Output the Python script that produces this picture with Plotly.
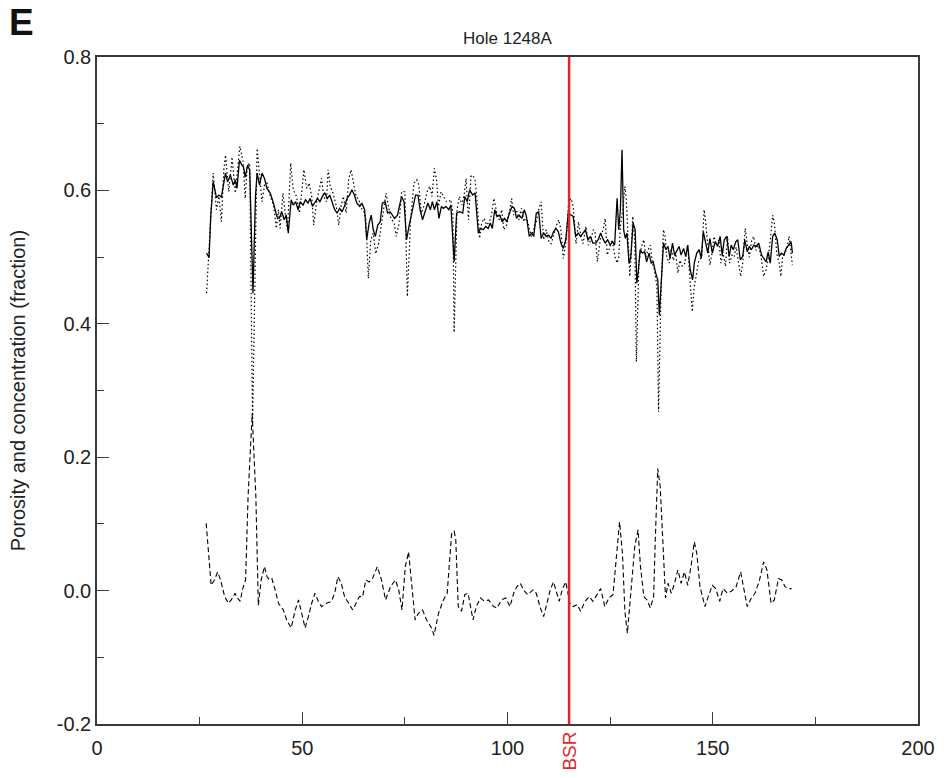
import plotly.graph_objects as go

# ---------------- data ----------------
solid = [
    (26.7, 0.506), (27.3, 0.499), (27.7, 0.560), (28.3, 0.613), (29.1, 0.589), (29.7, 0.593),
    (30.3, 0.590), (30.9, 0.611), (31.3, 0.626), (31.8, 0.613), (32.5, 0.623), (33.2, 0.608),
    (33.7, 0.616), (34.1, 0.603), (34.7, 0.645), (35.3, 0.638), (35.7, 0.635), (36.1, 0.620),
    (36.7, 0.638), (37.2, 0.630), (38.0, 0.446), (38.6, 0.590), (39.0, 0.626), (39.6, 0.608),
    (40.2, 0.626), (40.8, 0.618), (41.4, 0.603), (42.2, 0.596), (43.0, 0.581), (43.8, 0.561),
    (44.4, 0.558), (45.0, 0.568), (45.6, 0.556), (46.1, 0.563), (46.6, 0.536), (47.3, 0.586),
    (47.8, 0.578), (48.4, 0.583), (49.0, 0.571), (49.5, 0.583), (50.2, 0.578), (50.8, 0.586),
    (51.4, 0.581), (51.9, 0.588), (52.5, 0.576), (53.2, 0.583), (53.7, 0.588), (54.3, 0.583),
    (54.9, 0.591), (55.5, 0.596), (56.1, 0.588), (56.7, 0.593), (57.3, 0.583), (57.9, 0.571),
    (58.5, 0.566), (59.1, 0.573), (59.7, 0.568), (60.4, 0.578), (60.9, 0.588), (61.5, 0.593),
    (62.1, 0.601), (62.7, 0.593), (63.3, 0.581), (64.0, 0.576), (64.5, 0.581), (65.2, 0.571),
    (65.7, 0.526), (66.3, 0.551), (66.8, 0.563), (67.3, 0.541), (67.8, 0.531), (68.4, 0.548),
    (69.0, 0.553), (69.5, 0.581), (70.2, 0.583), (70.8, 0.566), (71.4, 0.568), (72.0, 0.563),
    (72.5, 0.558), (73.2, 0.563), (74.2, 0.591), (74.8, 0.583), (75.4, 0.526), (76.0, 0.546),
    (76.8, 0.571), (77.6, 0.593), (78.2, 0.593), (78.7, 0.571), (79.3, 0.556), (80.1, 0.571),
    (80.6, 0.581), (81.2, 0.571), (81.7, 0.583), (82.2, 0.571), (82.8, 0.583), (83.3, 0.558),
    (83.9, 0.576), (84.4, 0.573), (85.0, 0.576), (85.7, 0.571), (86.2, 0.578), (87.0, 0.493),
    (87.6, 0.566), (88.4, 0.568), (89.1, 0.566), (89.6, 0.591), (90.2, 0.583), (90.8, 0.601),
    (91.5, 0.593), (92.1, 0.596), (92.9, 0.536), (93.4, 0.543), (94.1, 0.541), (94.7, 0.546),
    (95.3, 0.543), (95.8, 0.551), (96.3, 0.543), (96.9, 0.571), (97.4, 0.561), (98.1, 0.563),
    (98.7, 0.553), (99.3, 0.558), (99.8, 0.553), (100.5, 0.566), (101.1, 0.576), (101.7, 0.573),
    (102.2, 0.558), (102.8, 0.563), (103.5, 0.558), (104.1, 0.571), (104.6, 0.561), (105.3, 0.531),
    (105.9, 0.536), (106.4, 0.531), (107.0, 0.566), (107.6, 0.568), (108.2, 0.528), (108.8, 0.536),
    (109.4, 0.531), (110.0, 0.533), (110.6, 0.528), (111.2, 0.538), (111.8, 0.543), (112.4, 0.538),
    (113.0, 0.521), (113.6, 0.513), (114.2, 0.526), (114.8, 0.566), (115.5, 0.563), (116.0, 0.561),
    (116.6, 0.531), (117.2, 0.536), (117.8, 0.531), (118.4, 0.536), (119.0, 0.541), (119.6, 0.526),
    (120.2, 0.531), (120.8, 0.521), (121.5, 0.521), (122.1, 0.526), (122.7, 0.536), (123.2, 0.528),
    (123.8, 0.521), (124.4, 0.526), (125.0, 0.518), (125.6, 0.523), (126.1, 0.518), (126.7, 0.588),
    (127.1, 0.541), (127.5, 0.571), (127.9, 0.661), (128.3, 0.541), (128.7, 0.528), (129.1, 0.536),
    (129.6, 0.491), (130.0, 0.498), (130.6, 0.551), (131.1, 0.541), (131.5, 0.461), (131.9, 0.481),
    (132.3, 0.511), (132.9, 0.506), (133.4, 0.508), (133.9, 0.493), (134.5, 0.506), (135.0, 0.491),
    (135.5, 0.493), (136.1, 0.476), (136.6, 0.466), (137.0, 0.413), (137.4, 0.461), (138.0, 0.521),
    (138.6, 0.511), (139.1, 0.516), (139.6, 0.498), (140.2, 0.521), (140.7, 0.503), (141.3, 0.511),
    (141.8, 0.516), (142.3, 0.503), (142.9, 0.513), (143.4, 0.501), (143.9, 0.518), (144.5, 0.481),
    (145.1, 0.466), (145.5, 0.491), (146.1, 0.506), (146.7, 0.511), (147.2, 0.498), (147.7, 0.538),
    (148.3, 0.521), (148.8, 0.506), (149.3, 0.528), (149.9, 0.506), (150.6, 0.523), (151.2, 0.516),
    (151.8, 0.531), (152.3, 0.503), (152.8, 0.526), (153.4, 0.531), (154.0, 0.501), (154.5, 0.518),
    (155.0, 0.511), (155.6, 0.523), (156.1, 0.526), (156.7, 0.496), (157.3, 0.501), (157.8, 0.526),
    (158.4, 0.508), (158.9, 0.516), (159.4, 0.511), (160.0, 0.518), (160.6, 0.516), (161.2, 0.521),
    (161.9, 0.503), (162.4, 0.498), (163.0, 0.493), (163.5, 0.508), (164.0, 0.491), (164.6, 0.531),
    (165.1, 0.536), (165.7, 0.526), (166.2, 0.501), (166.7, 0.506), (167.3, 0.503), (167.9, 0.513),
    (168.5, 0.518), (169.1, 0.523), (169.4, 0.506),
]

dotted = [
    (26.7, 0.446), (28.3, 0.626), (29.1, 0.571), (29.7, 0.591), (30.3, 0.553), (30.9, 0.631),
    (31.3, 0.653), (32.1, 0.598), (32.9, 0.650), (33.7, 0.596), (34.8, 0.666), (35.6, 0.643),
    (36.1, 0.588), (36.6, 0.636), (37.2, 0.641), (37.9, 0.250), (39.0, 0.663), (39.6, 0.626),
    (40.2, 0.583), (40.8, 0.608), (41.4, 0.611), (42.2, 0.591), (43.0, 0.578), (43.7, 0.543),
    (44.2, 0.571), (44.6, 0.543), (45.3, 0.596), (45.8, 0.568), (46.4, 0.541), (47.2, 0.641),
    (47.8, 0.601), (48.6, 0.591), (49.3, 0.566), (49.8, 0.593), (50.4, 0.631), (51.1, 0.603),
    (51.7, 0.611), (52.3, 0.591), (52.8, 0.548), (53.5, 0.583), (54.1, 0.603), (54.7, 0.618),
    (55.2, 0.591), (55.9, 0.583), (56.3, 0.631), (56.8, 0.606), (57.5, 0.596), (58.3, 0.576),
    (58.9, 0.548), (59.5, 0.578), (60.0, 0.591), (60.7, 0.566), (61.3, 0.616), (61.9, 0.631),
    (62.5, 0.611), (63.1, 0.591), (63.8, 0.586), (64.3, 0.573), (64.9, 0.571), (65.5, 0.556),
    (66.1, 0.468), (66.7, 0.526), (67.3, 0.536), (67.9, 0.505), (68.6, 0.520), (69.2, 0.546),
    (69.7, 0.561), (70.4, 0.596), (71.0, 0.576), (71.6, 0.558), (72.4, 0.551), (72.9, 0.531),
    (73.6, 0.551), (74.2, 0.598), (75.0, 0.598), (75.6, 0.441), (76.4, 0.556), (77.2, 0.611),
    (77.9, 0.616), (78.4, 0.608), (79.0, 0.566), (79.6, 0.576), (80.4, 0.598), (81.1, 0.606),
    (81.6, 0.591), (82.2, 0.633), (82.7, 0.616), (83.2, 0.576), (83.8, 0.598), (84.5, 0.591),
    (85.1, 0.583), (85.7, 0.583), (86.2, 0.586), (86.7, 0.566), (87.0, 0.387), (87.7, 0.571),
    (88.3, 0.591), (88.9, 0.578), (89.5, 0.596), (89.9, 0.618), (90.5, 0.556), (91.1, 0.621),
    (91.5, 0.623), (92.1, 0.616), (92.5, 0.591), (93.2, 0.528), (93.7, 0.551), (94.3, 0.558),
    (94.9, 0.548), (95.6, 0.553), (96.1, 0.563), (96.7, 0.588), (97.4, 0.566), (98.0, 0.556),
    (98.6, 0.571), (99.1, 0.541), (99.8, 0.548), (100.4, 0.566), (101.0, 0.588), (101.5, 0.563),
    (102.2, 0.571), (102.8, 0.556), (103.4, 0.573), (104.0, 0.553), (104.6, 0.561), (105.2, 0.546),
    (105.8, 0.531), (106.4, 0.541), (107.0, 0.553), (107.6, 0.571), (108.2, 0.583), (108.8, 0.526),
    (109.4, 0.541), (110.1, 0.523), (110.6, 0.520), (111.2, 0.531), (111.8, 0.546), (112.5, 0.556),
    (113.0, 0.541), (113.6, 0.498), (114.3, 0.526), (114.9, 0.583), (115.5, 0.588), (116.0, 0.576),
    (116.7, 0.520), (117.3, 0.553), (117.9, 0.531), (118.4, 0.520), (119.1, 0.546), (119.7, 0.518),
    (120.3, 0.526), (120.9, 0.541), (121.3, 0.538), (121.9, 0.493), (122.7, 0.531), (123.3, 0.541),
    (123.8, 0.558), (124.3, 0.503), (124.9, 0.515), (125.5, 0.526), (126.2, 0.500), (126.7, 0.491),
    (127.1, 0.500), (127.5, 0.546), (128.1, 0.571), (128.6, 0.606), (128.9, 0.591), (129.4, 0.520),
    (129.8, 0.471), (130.2, 0.510), (130.5, 0.561), (131.0, 0.526), (131.4, 0.343), (132.0, 0.491),
    (132.6, 0.515), (133.2, 0.526), (133.7, 0.500), (134.2, 0.510), (134.8, 0.518), (135.3, 0.491),
    (135.8, 0.481), (136.4, 0.456), (136.8, 0.268), (137.4, 0.451), (138.0, 0.541), (138.4, 0.531),
    (138.8, 0.500), (139.4, 0.491), (139.9, 0.513), (140.4, 0.495), (141.0, 0.505), (141.5, 0.476),
    (142.0, 0.495), (142.6, 0.486), (143.2, 0.491), (143.9, 0.518), (144.4, 0.468), (145.0, 0.418),
    (145.5, 0.456), (146.1, 0.481), (146.6, 0.495), (147.3, 0.500), (147.9, 0.571), (148.2, 0.556),
    (148.7, 0.526), (149.3, 0.488), (149.8, 0.505), (150.3, 0.531), (150.9, 0.518), (151.5, 0.526),
    (152.0, 0.491), (152.5, 0.508), (153.1, 0.486), (153.6, 0.531), (154.1, 0.491), (154.7, 0.503),
    (155.2, 0.500), (155.7, 0.515), (156.3, 0.491), (156.8, 0.471), (157.3, 0.491), (157.9, 0.543),
    (158.4, 0.520), (158.9, 0.500), (159.5, 0.526), (160.0, 0.531), (160.5, 0.510), (161.1, 0.518),
    (161.8, 0.500), (162.4, 0.471), (163.0, 0.481), (163.5, 0.498), (164.2, 0.536), (164.6, 0.563),
    (165.0, 0.551), (165.6, 0.505), (166.2, 0.491), (166.6, 0.471), (167.0, 0.500), (167.6, 0.505),
    (168.2, 0.518), (168.6, 0.531), (169.0, 0.510), (169.4, 0.488),
]

dashed = [
    (26.6, 0.101), (27.4, 0.031), (27.8, 0.008), (28.6, 0.016), (29.4, 0.028), (30.1, 0.016),
    (31.1, -0.009), (32.0, -0.019), (32.7, -0.014), (33.6, -0.004), (34.2, -0.011), (34.9, -0.016),
    (35.4, 0.001), (36.2, 0.016), (36.8, 0.141), (37.8, 0.265), (38.7, 0.141), (39.3, -0.022),
    (40.0, 0.016), (40.8, 0.036), (41.4, 0.021), (42.0, 0.016), (42.6, 0.018), (43.4, 0.001),
    (44.2, -0.019), (45.4, -0.029), (46.2, -0.044), (47.3, -0.056), (48.3, -0.029), (49.1, -0.014),
    (49.9, -0.034), (50.7, -0.056), (51.5, -0.039), (52.3, -0.019), (53.1, -0.004), (53.9, -0.016),
    (54.7, -0.024), (55.9, -0.019), (57.1, -0.016), (57.9, -0.004), (58.7, 0.021), (59.5, 0.011),
    (60.3, -0.009), (61.3, -0.019), (62.3, -0.029), (63.1, -0.019), (63.9, -0.009), (64.7, -0.009),
    (65.5, 0.016), (66.3, 0.013), (67.1, 0.018), (68.3, 0.036), (69.3, 0.016), (70.3, -0.014),
    (71.5, 0.006), (72.7, 0.016), (73.5, 0.001), (74.3, -0.029), (75.1, 0.036), (75.9, 0.058),
    (76.7, 0.006), (77.5, -0.044), (78.3, -0.034), (79.3, -0.029), (80.3, -0.044), (81.5, -0.056),
    (82.1, -0.067), (83.2, -0.034), (84.4, -0.014), (85.3, -0.004), (86.4, 0.086), (87.0, 0.089),
    (87.4, 0.076), (88.0, -0.024), (88.8, -0.031), (89.6, -0.006), (90.4, -0.004), (91.6, -0.044),
    (92.4, -0.024), (93.4, -0.011), (94.4, -0.016), (95.4, -0.014), (96.6, -0.024), (97.5, -0.026),
    (98.5, -0.014), (99.6, -0.011), (100.6, -0.024), (101.5, -0.004), (102.3, 0.006), (103.1, 0.011),
    (103.9, 0.001), (104.9, -0.006), (106.2, 0.001), (107.0, -0.004), (107.9, -0.024), (108.8, -0.039),
    (109.6, -0.019), (110.4, 0.001), (111.2, 0.013), (112.0, -0.004), (112.6, -0.016), (113.4, 0.003),
    (114.2, 0.013), (115.2, -0.019), (116.0, -0.024), (117.0, -0.021), (117.8, -0.031), (118.9, -0.016),
    (119.9, -0.009), (120.8, -0.016), (121.9, -0.004), (122.7, 0.003), (123.7, -0.024), (124.7, -0.011),
    (125.7, -0.006), (126.3, 0.036), (127.3, 0.103), (128.0, 0.056), (128.6, -0.031), (129.2, -0.064),
    (130.0, -0.004), (131.0, 0.066), (131.8, 0.091), (132.4, 0.036), (133.2, -0.009), (134.0, -0.014),
    (134.8, -0.026), (135.6, -0.009), (136.0, 0.076), (136.6, 0.183), (137.2, 0.156), (137.8, 0.076),
    (138.5, -0.011), (139.1, 0.011), (139.9, -0.004), (140.7, 0.011), (141.5, 0.031), (142.3, 0.011),
    (143.1, 0.028), (143.9, 0.008), (144.7, 0.036), (145.5, 0.073), (146.1, 0.056), (146.9, 0.006),
    (148.1, -0.024), (148.9, -0.009), (149.9, 0.008), (150.7, 0.003), (151.7, -0.016), (152.5, 0.003),
    (153.6, -0.004), (154.5, -0.001), (155.7, 0.006), (156.8, 0.028), (157.6, 0.001), (158.4, -0.024),
    (159.4, -0.011), (160.3, -0.004), (161.4, 0.016), (162.4, 0.043), (163.2, 0.031), (164.2, -0.019),
    (165.0, -0.014), (166.0, 0.018), (166.8, 0.016), (167.6, 0.006), (168.4, 0.003), (169.2, 0.003),
]

bsr_depth = 115
x_tickvals = [0, 50, 100, 150, 200]
y_tickvals = [-0.2, 0.0, 0.2, 0.4, 0.6, 0.8]
y_ticktext = ["-0.2", "0.0", "0.2", "0.4", "0.6", "0.8"]
title_text = "Hole 1248A"
panel_label = "E"
y_title = "Porosity and concentration (fraction)"

# ---------------- figure ----------------
FONT = "Liberation Sans, Arial, Helvetica, sans-serif"
AX = "#3a3a3a"
RED = "#e3242b"

def unzip(pairs):
    return [p[0] for p in pairs], [p[1] for p in pairs]

fig = go.Figure()
for pairs, dash, width in [(dotted, "1.5px,2.5px", 1.2), (solid, "solid", 1.3), (dashed, "5px,3px", 1.1)]:
    xs, ys = unzip(pairs)
    fig.add_trace(go.Scatter(x=xs, y=ys, mode="lines",
                             line=dict(color="black", width=width, dash=dash),
                             hoverinfo="skip"))

fig.add_shape(type="line", xref="x", yref="paper", x0=bsr_depth, x1=bsr_depth, y0=0, y1=1,
              line=dict(color=RED, width=2.5))

fig.add_annotation(text="BSR", xref="x", yref="paper", x=bsr_depth, y=0, yanchor="top",
                   xanchor="center", textangle=-90, yshift=-6, showarrow=False,
                   font=dict(family=FONT, size=19, color=RED))
fig.add_annotation(text=title_text, xref="paper", yref="paper", x=0.5, y=1, yanchor="bottom",
                   yshift=7, showarrow=False, font=dict(family=FONT, size=17, color="#222"))
fig.add_annotation(text="<b>" + panel_label + "</b>", xref="paper", yref="paper",
                   x=-91 / 828, y=1 + 57 / 667, xanchor="left", yanchor="top", showarrow=False,
                   font=dict(family=FONT, size=37, color="#111"))

fig.update_layout(
    width=947, height=778,
    margin=dict(l=97, r=22, t=57, b=54),
    plot_bgcolor="white", paper_bgcolor="white",
    showlegend=False,
    font=dict(family=FONT, size=20, color="#222"),
)
fig.update_xaxes(range=[0, 200], tickvals=x_tickvals, ticks="inside", ticklen=12, tickwidth=1.2,
                 tickcolor=AX, showline=True, linecolor=AX, linewidth=1.5, mirror=True,
                 showgrid=False, zeroline=False, ticklabelstandoff=5,
                 minor=dict(ticks="inside", ticklen=7, dtick=25, tick0=0, tickcolor=AX, tickwidth=1.2),
                 tickfont=dict(size=20))
fig.update_yaxes(range=[-0.2, 0.8], tickvals=y_tickvals, ticktext=y_ticktext, ticks="inside",
                 ticklen=12, tickwidth=1.2, tickcolor=AX, showline=True, linecolor=AX,
                 linewidth=1.5, mirror=True, showgrid=False, zeroline=False,
                 minor=dict(ticks="inside", ticklen=7, dtick=0.1, tick0=0, tickcolor=AX, tickwidth=1.2),
                 title=dict(text=y_title, font=dict(size=20), standoff=26),
                 tickfont=dict(size=20))

fig.write_html("out.html")
